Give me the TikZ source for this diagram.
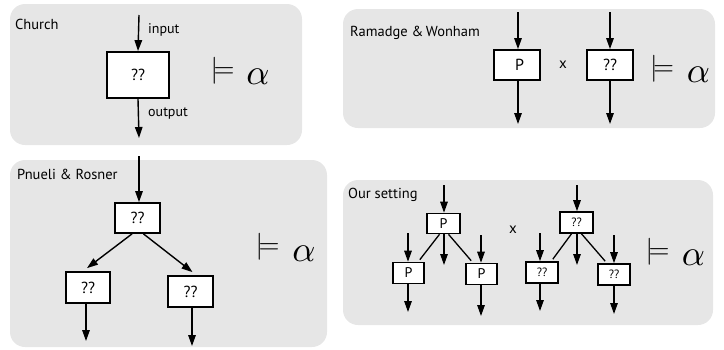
\documentclass[tikz,border=0pt]{standalone}
\usepackage{fontspec}
\setmainfont{PT Sans}
\usetikzlibrary{arrows.meta,calc}
\definecolor{panelgray}{RGB}{230,230,230}
\tikzset{
  panel/.style={fill=panelgray, draw=none, rounded corners=15pt},
  bigbox/.style={draw=black, fill=white, line width=1.8pt, inner sep=0pt, font=\fontsize{16}{18}\selectfont},
  smallbox/.style={draw=black, fill=white, line width=1.6pt, inner sep=0pt, minimum width=31pt, minimum height=21pt},
  arr/.style={line width=1.4pt, -{Triangle[length=11pt,width=7.5pt]}},
  tline/.style={line width=1.3pt},
  lbl/.style={font=\fontsize{14.5}{16}\selectfont, anchor=base west, inner sep=0pt},
  sm/.style={font=\fontsize{14}{16}\selectfont, inner sep=0pt},
  mod/.style={inner sep=0pt, scale=2.7},
  alp/.style={inner sep=0pt, scale=3.6},
}
\begin{document}
\begin{tikzpicture}[x=1pt,y=-1pt]
\useasboundingbox (0,0) rectangle (724,349);
% ---------- Panel 1: Church ----------
\fill[panel] (10,4) rectangle (302,145);
\node[lbl] (church) at (15,29) {Church};
\node[bigbox, minimum width=62pt, minimum height=46pt] (c) at (138,75) {??};
\coordinate (cin) at (139,15);
\coordinate (cout) at (139,138);
\draw[arr] (cin) -- (c.north);
\draw[arr] (c.south) -- (cout);
\node[sm, anchor=base west] (inp) at (148,33) {input};
\node[sm, anchor=base west] (outp) at (148,116) {output};
\node[mod] (m1) at (222.5,70.5) {$\models$};
\node[alp] (a1) at (258,76.5) {$\alpha$};
% ---------- Panel 2: Ramadge & Wonham ----------
\fill[panel] (343,9) rectangle (715,128);
\node[lbl] (rw) at (350,36) {Ramadge \&\,Wonham};
\node[bigbox, minimum width=46pt, minimum height=30pt] (p2) at (517,65) {\hspace{5pt}P};
\node[bigbox, minimum width=46pt, minimum height=30pt] (q2) at (610,65) {??};
\coordinate (p2in) at (518,12);
\coordinate (p2out) at (518,124);
\coordinate (q2in) at (610,12);
\coordinate (q2out) at (610,124);
\draw[arr] (p2in) -- (p2in |- p2.north);
\draw[arr] (p2out |- p2.south) -- (p2out);
\draw[arr] (q2in) -- (q2in |- q2.north);
\draw[arr] (q2out |- q2.south) -- (q2out);
\node[sm, font=\fontsize{15}{17}\selectfont] (x2) at (563,65) {x};
\node[mod] (m2) at (662,68.5) {$\models$};
\node[alp] (a2) at (698.5,75) {$\alpha$};
% ---------- Panel 3: Pnueli & Rosner ----------
\fill[panel] (10,160) rectangle (327,347);
\node[lbl] (pr) at (17,179) {Pnueli \& Rosner};
\node[bigbox, minimum width=45pt, minimum height=30pt] (t3) at (137.5,218) {??};
\node[bigbox, minimum width=44pt, minimum height=31pt] (l3) at (88,287.5) {??};
\node[bigbox, minimum width=45pt, minimum height=31pt] (r3) at (190.5,291.5) {??};
\coordinate (t3in) at (139,156);
\draw[arr] (t3in) -- (t3in |- t3.north);
\draw[arr] ($(t3.south)+(-5.5,0)$) -- ($(l3.north)+(-1,-3)$);
\draw[arr] ($(t3.south)+(6,0)$) -- ($(r3.north)+(2,-3)$);
\coordinate (l3out) at (86,341);
\coordinate (r3out) at (192,346);
\draw[arr] (l3out |- l3.south) -- (l3out);
\draw[arr] (r3out |- r3.south) -- (r3out);
\node[mod] (m3) at (267.5,246.5) {$\models$};
\node[alp] (a3) at (304,254) {$\alpha$};
% ---------- Panel 4: Our setting ----------
\fill[panel] (343,180) rectangle (713,325);
\node[lbl] (os) at (348,198) {Our setting};
% first tree (P)
\node[smallbox, minimum width=33pt, minimum height=20pt, font=\fontsize{14}{16}\selectfont] (pt) at (443.5,223.5) {P};
\node[smallbox, font=\fontsize{14}{16}\selectfont] (pl) at (408.5,273) {P};
\node[smallbox, font=\fontsize{14}{16}\selectfont] (pr4) at (481.5,274) {P};
\coordinate (ptin) at (444,185);
\coordinate (ptmid) at (444,265);
\coordinate (plin) at (408,233);
\coordinate (plout) at (408,312);
\coordinate (prin) at (481,235);
\coordinate (prout) at (481,316);
\draw[arr] (ptin) -- (ptin |- pt.north);
\draw[arr] (ptmid |- pt.south) -- (ptmid);
\draw[tline] ($(pt.south)+(-4,0)$) -- ($(pl.north east)+(-5,-2)$);
\draw[tline] ($(pt.south)+(5,0)$) -- ($(pr4.north west)+(6,-2)$);
\draw[arr] (plin) -- (plin |- pl.north);
\draw[arr] (plout |- pl.south) -- (plout);
\draw[arr] (prin) -- (prin |- pr4.north);
\draw[arr] (prout |- pr4.south) -- (prout);
\node[sm, font=\fontsize{15}{17}\selectfont] (x4) at (513,230) {x};
% second tree (??)
\node[smallbox, minimum width=33pt, minimum height=21pt, font=\fontsize{12}{14}\selectfont] (qt) at (576.5,222.5) {??};
\node[smallbox, minimum width=32pt, font=\fontsize{12}{14}\selectfont] (ql) at (542,272.5) {??};
\node[smallbox, minimum width=32pt, font=\fontsize{12}{14}\selectfont] (qr) at (614,274.5) {??};
\coordinate (qtin) at (577,185);
\coordinate (qtmid) at (577,265);
\coordinate (qlin) at (540,233);
\coordinate (qlout) at (540,311);
\coordinate (qrin) at (614,235);
\coordinate (qrout) at (614,314);
\draw[arr] (qtin) -- (qtin |- qt.north);
\draw[arr] (qtmid |- qt.south) -- (qtmid);
\draw[tline] ($(qt.south)+(-5,0)$) -- ($(ql.north east)+(-6,-2)$);
\draw[tline] ($(qt.south)+(5,0)$) -- ($(qr.north west)+(8,-2)$);
\draw[arr] (qlin) -- (qlin |- ql.north);
\draw[arr] (qlout |- ql.south) -- (qlout);
\draw[arr] (qrin) -- (qrin |- qr.north);
\draw[arr] (qrout |- qr.south) -- (qrout);
\node[mod] (m4) at (657.5,251.5) {$\models$};
\node[alp] (a4) at (693.5,257.5) {$\alpha$};
\end{tikzpicture}
\end{document}
